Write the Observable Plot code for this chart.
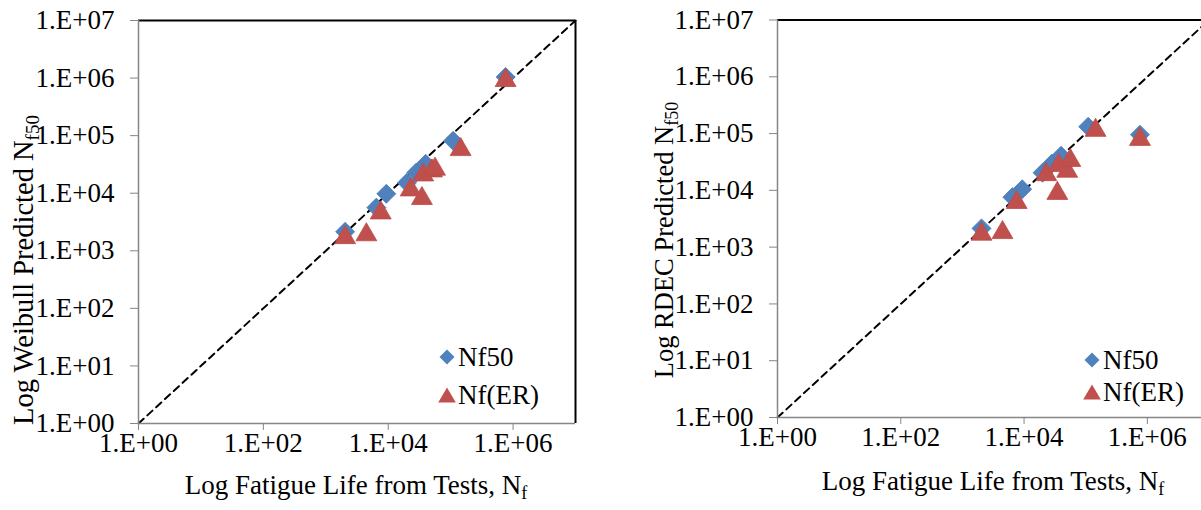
<!DOCTYPE html>
<html><head><meta charset="utf-8">
<script src="https://cdn.jsdelivr.net/npm/d3@7"></script>
<script src="https://cdn.jsdelivr.net/npm/@observablehq/plot@0.6"></script>
<style>
html,body{margin:0;padding:0;background:#fff;overflow:hidden;}
#wrap{position:relative;width:1201px;height:510px;overflow:hidden;}
#left{position:absolute;left:0;top:0;width:600px;height:510px;}
#right{position:absolute;left:640px;top:0;width:600px;height:510px;}
svg{max-width:none !important;}
</style></head><body><div id="wrap"><div id="left"></div><div id="right"></div></div>
<script>
// Test fatigue lives (x) for each series
const testNf50 = [2040, 6460, 9330, 19950, 28180, 39810, 109600, 758600];
const testER   = [2040, 4470, 7590, 22900, 34670, 36310, 50120, 56230, 144500, 758600];
// Weibull predictions (left panel)
const weibullNf50 = [2140, 5620, 9770, 15140, 22910, 32360, 81280, 1047000];
const weibullER   = [1910, 2140, 5130, 12880, 9120, 23440, 27540, 29510, 64570, 1023000];
// RDEC predictions (right panel)
const rdecNf50 = [2140, 7590, 10470, 20420, 29510, 40740, 131800, 95500];
const rdecER   = [1910, 2040, 6920, 21380, 10000, 30900, 24550, 38020, 128800, 89130];
const seriesNames = ["Nf50", "Nf(ER)"];
const xTicks = [1, 1e2, 1e4, 1e6];
const yTicks = [1, 1e1, 1e2, 1e3, 1e4, 1e5, 1e6, 1e7];
const diagonal = [1, 1e7];
const xLabel = ["Log Fatigue Life from Tests, N", "f"];
const yLabelLeft = ["Log Weibull Predicted N", "f50"];
const yLabelRight = ["Log RDEC Predicted N", "f50"];

const BLUE = "#4F81BD", RED = "#C0504D", GRAY = "#868686";
const FONT = "Liberation Serif, Times New Roman, serif";
const fmt = d => "1.E+" + String(Math.round(Math.log10(d))).padStart(2, "0");

const diamondSym = {draw(ctx, size){ const r = Math.sqrt(size/Math.PI);
  ctx.moveTo(0,-r); ctx.lineTo(r,0); ctx.lineTo(0,r); ctx.lineTo(-r,0); ctx.closePath(); }};
const triSym = {draw(ctx, size){ const r = Math.sqrt(size/Math.PI);
  ctx.moveTo(0,-r*0.95); ctx.lineTo(r*1.1,r*0.95); ctx.lineTo(-r*1.1,r*0.95); ctx.closePath(); }};

function panel(cfg) {
  const nf50 = testNf50.map((x,i)=>({x, y: cfg.p50[i]}));
  const er = testER.map((x,i)=>({x, y: cfg.pER[i]}));
  const svg = Plot.plot({
    width: cfg.width, height: 510,
    marginLeft: cfg.mL, marginRight: cfg.mR, marginTop: cfg.mT, marginBottom: cfg.mB,
    style: {fontFamily: FONT, fontSize: "27px", color: "#000", background: "transparent", overflow: "visible", maxWidth: "none"},
    x: {type: "log", domain: [1, 1e7]},
    y: {type: "log", domain: [1, 1e7]},
    marks: [
      Plot.ruleY([1e7], {stroke: "#000", strokeWidth: 2}),
      Plot.ruleX([1e7], {stroke: "#000", strokeWidth: 2}),
      Plot.line(diagonal, {x: d=>d, y: d=>d, stroke: "#000", strokeWidth: 2, strokeDasharray: "7,5"}),
      Plot.dot(nf50, {x: "x", y: "y", symbol: diamondSym, r: 9.5, fill: BLUE, stroke: "#4A7CB8", strokeWidth: 0.8}),
      Plot.dot(er, {x: "x", y: "y", symbol: triSym, r: 9.5, fill: RED, stroke: "#BC4B48", strokeWidth: 0.8}),
      Plot.ruleY([1], {stroke: GRAY, strokeWidth: 1.5}),
      Plot.ruleX([1], {stroke: GRAY, strokeWidth: 1.5}),
      Plot.axisX({ticks: xTicks, tickFormat: fmt, tickSize: 7, tickPadding: 2, stroke: GRAY, fill: "#000", label: null}),
      Plot.axisY({ticks: yTicks, tickFormat: fmt, tickSize: 8, tickPadding: 16, stroke: GRAY, fill: "#000", label: null})
    ]
  });
  const s = d3.select(svg);
  function label(x, y, rot, parts, fs) {
    const t = s.append("text").attr("transform", `translate(${x},${y}) rotate(${rot})`)
      .attr("text-anchor", "middle").attr("font-family", FONT).attr("font-size", fs).attr("fill", "#000");
    t.append("tspan").text(parts[0]);
    t.append("tspan").attr("font-size", Math.round(fs*0.68)).attr("dy", "0.3em").text(parts[1]);
  }
  label(cfg.xl[0], cfg.xl[1], 0, xLabel, 27);
  label(cfg.yl[0], cfg.yl[1], -90, cfg.ylab, cfg.yfs);
  // legend
  const L = cfg.leg;
  const syms = [diamondSym, triSym], cols = [BLUE, RED], rs = [7.5, 8];
  seriesNames.forEach((name, i) => {
    const cy = L[1] + i * L[2];
    s.append("path").attr("d", d3.symbol(syms[i], Math.PI*rs[i]*rs[i])())
      .attr("transform", `translate(${L[0]},${cy})`).attr("fill", cols[i]);
    s.append("text").attr("x", L[0] + 11).attr("y", cy).attr("dy", "0.32em")
      .attr("text-anchor", "start")
      .attr("font-family", FONT).attr("font-size", 27).attr("fill", "#000").text(name);
  });
  return svg;
}

document.getElementById("left").appendChild(panel({
  p50: weibullNf50, pER: weibullER, width: 600, mL: 138, mR: 25, mT: 20, mB: 87,
  xl: [356, 494], yl: [33, 270], yfs: 28.5, ylab: yLabelLeft, leg: [447, 357, 38]
}));
document.getElementById("right").appendChild(panel({
  p50: rdecNf50, pER: rdecER, width: 600, mL: 137, mR: 31.5, mT: 19.5, mB: 93,
  xl: [353, 490], yl: [33, 240], yfs: 26.5, ylab: yLabelRight, leg: [452, 360, 32]
}));
</script>
</body></html>
